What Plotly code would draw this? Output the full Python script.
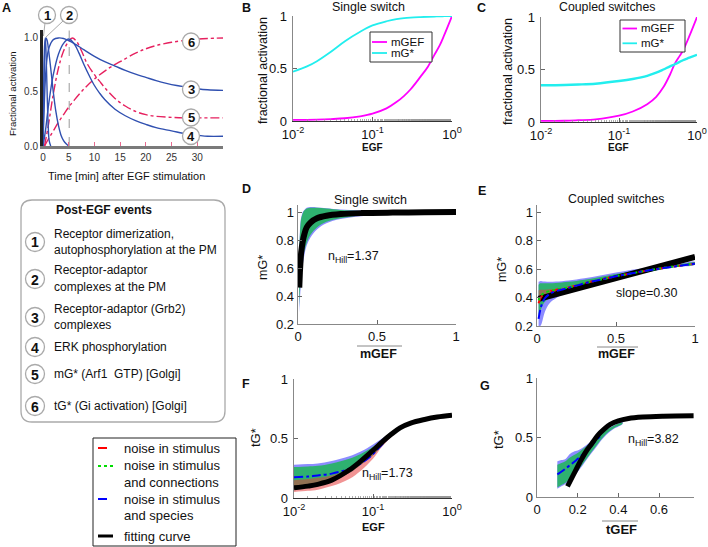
import plotly.graph_objects as go

W, H = 708, 547
FONT = "Arial, Liberation Sans, sans-serif"

# ---------------- data ----------------
# Panel A: time courses (min) of post-EGF events, fractional activation
A_t1 = [0, 0.15, 0.3, 0.45, 0.6, 0.8, 1.0, 1.2, 1.5]
A_y1 = [0, 0.55, 0.92, 1.0, 0.85, 0.5, 0.2, 0.05, 0]
A_t2 = [0, 0.2, 0.4, 0.6, 0.8, 1.0, 1.5, 2.0, 2.5, 3.0, 3.5, 4.0, 4.5, 5.0]
A_y2 = [0, 0.6, 0.92, 1.0, 0.98, 0.92, 0.72, 0.5, 0.32, 0.19, 0.1, 0.05, 0.02, 0]
A_t3 = [0, 0.3, 0.6, 1, 1.5, 2, 3, 4, 5, 6, 8, 10, 12, 14, 16, 18, 20, 22, 24, 26, 28, 30, 32, 35]
A_y3 = [0, 0.45, 0.72, 0.88, 0.95, 0.985, 1.0, 0.995, 0.975, 0.95, 0.89, 0.83, 0.78, 0.74, 0.7,
        0.665, 0.635, 0.605, 0.58, 0.56, 0.545, 0.53, 0.52, 0.515]
A_t4 = [0, 0.5, 1, 1.5, 2, 3, 4, 5, 6, 7, 8, 9, 10, 11, 12, 14, 16, 18, 20, 22, 25, 28, 30, 32, 35]
A_y4 = [0, 0.15, 0.35, 0.52, 0.66, 0.85, 0.95, 0.99, 0.95, 0.86, 0.75, 0.65, 0.56, 0.49, 0.43,
        0.34, 0.28, 0.235, 0.2, 0.17, 0.14, 0.11, 0.1, 0.09, 0.09]
A_t5 = [0.3, 1, 2, 3, 4, 5, 5.7, 6.5, 7.5, 8.5, 10, 11, 12, 14, 16, 18, 20, 22, 25, 28, 30, 35]
A_y5 = [0, 0.18, 0.48, 0.72, 0.88, 0.97, 1.0, 0.97, 0.88, 0.77, 0.66, 0.6, 0.54, 0.44, 0.37,
        0.32, 0.29, 0.275, 0.265, 0.26, 0.26, 0.26]
A_t6 = [0.3, 1, 2, 3, 4, 5, 6, 8, 10, 12.8, 15, 18, 20, 22, 25, 28, 30, 35]
A_y6 = [0, 0.06, 0.14, 0.22, 0.29, 0.36, 0.42, 0.53, 0.62, 0.72, 0.78, 0.86, 0.9, 0.93, 0.96, 0.98, 0.99, 1.0]
A_peak_time = 5.1
A_xticks = [0, 5, 10, 15, 20, 25, 30]

# Panel B: single switch vs EGF
B_egf = [0.01, 0.015, 0.02, 0.03, 0.045, 0.07, 0.1, 0.15, 0.2, 0.25, 0.3, 0.4, 0.5, 0.6, 0.7, 0.8, 1.0]
B_mgef = [0.01, 0.011, 0.013, 0.018, 0.026, 0.045, 0.07, 0.12, 0.18, 0.24, 0.3, 0.42, 0.52, 0.63, 0.72, 0.82, 1.0]
B_mg = [0.47, 0.52, 0.57, 0.66, 0.76, 0.85, 0.91, 0.95, 0.97, 0.98, 0.985, 0.99, 0.993, 0.995, 0.997, 0.998, 1.0]

# Panel C: coupled switches vs EGF
C_egf = [0.01, 0.02, 0.03, 0.05, 0.1, 0.15, 0.23, 0.3, 0.37, 0.45, 0.52, 0.6, 0.66, 0.8, 1.0]
C_mgef = [0.01, 0.012, 0.017, 0.025, 0.06, 0.1, 0.17, 0.24, 0.33, 0.45, 0.556, 0.63, 0.68, 0.82, 1.0]
C_mg = [0.35, 0.353, 0.357, 0.365, 0.39, 0.41, 0.44, 0.47, 0.5, 0.53, 0.55, 0.573, 0.588, 0.612, 0.64]

# Panel D: single switch, mG* vs mGEF
D_x = [0.008, 0.012, 0.016, 0.02, 0.03, 0.04, 0.055, 0.08, 0.12, 0.18, 0.27, 0.4, 0.6, 0.8, 1.0]
D_fit = [0.46, 0.57, 0.65, 0.71, 0.79, 0.84, 0.89, 0.925, 0.955, 0.973, 0.985, 0.992, 0.996, 0.998, 1.0]
D_green_hi = [0.72, 0.84, 0.91, 0.95, 0.99, 1.01, 1.025, 1.03, 1.03, 1.025, 1.015, 1.008, 1.004, 1.002, 1.0]
D_green_lo = [0.32, 0.42, 0.5, 0.56, 0.66, 0.72, 0.78, 0.84, 0.89, 0.93, 0.955, 0.975, 0.988, 0.995, 1.0]
D_blue_hi = [0.74, 0.86, 0.93, 0.96, 1.0, 1.015, 1.03, 1.035, 1.033, 1.027, 1.017, 1.01, 1.005, 1.003, 1.001]
D_blue_lo = [0.28, 0.37, 0.45, 0.52, 0.62, 0.69, 0.76, 0.82, 0.875, 0.92, 0.95, 0.97, 0.985, 0.993, 0.998]

# Panel E: coupled switches, mG* vs mGEF
E_x = [0.01, 0.02, 0.03, 0.05, 0.08, 0.12, 0.2, 0.3, 0.4, 0.5, 0.6, 0.7, 0.8, 0.9, 1.0]
E_blue_hi = [0.51, 0.515, 0.515, 0.512, 0.51, 0.512, 0.52, 0.535, 0.555, 0.575, 0.595, 0.61, 0.625, 0.637, 0.65]
E_blue_lo = [0.2, 0.2, 0.22, 0.3, 0.36, 0.395, 0.44, 0.475, 0.5, 0.53, 0.555, 0.578, 0.598, 0.616, 0.63]
E_green_hi = [0.49, 0.5, 0.5, 0.5, 0.5, 0.502, 0.51, 0.525, 0.545, 0.565, 0.585, 0.602, 0.618, 0.632, 0.645]
E_green_lo = [0.26, 0.3, 0.33, 0.37, 0.395, 0.415, 0.45, 0.48, 0.505, 0.535, 0.558, 0.58, 0.6, 0.618, 0.632]
E_red_hi = [0.45, 0.455, 0.455, 0.455, 0.458, 0.462, 0.48, 0.505, 0.53, 0.555, 0.575, 0.595, 0.612, 0.627, 0.642]
E_red_lo = [0.35, 0.38, 0.4, 0.42, 0.432, 0.445, 0.465, 0.492, 0.518, 0.543, 0.565, 0.585, 0.603, 0.62, 0.634]
E_red_line = [0.36, 0.39, 0.41, 0.43, 0.442, 0.453, 0.47, 0.5, 0.525, 0.55, 0.57, 0.59, 0.607, 0.623, 0.637]
E_green_line = [0.38, 0.405, 0.42, 0.435, 0.445, 0.455, 0.471, 0.5, 0.525, 0.55, 0.57, 0.59, 0.608, 0.624, 0.638]
E_blue_line = [0.25, 0.31, 0.35, 0.395, 0.425, 0.445, 0.468, 0.5, 0.525, 0.55, 0.57, 0.59, 0.607, 0.623, 0.638]
E_fit_x = [0.01, 1.0]
E_fit_y = [0.39, 0.685]

# Panel F: tG* vs EGF
F_x = [0.01, 0.015, 0.02, 0.03, 0.05, 0.07, 0.1, 0.13, 0.17, 0.22, 0.3, 0.45, 0.65, 1.0]
F_fit = [0.085, 0.1, 0.115, 0.15, 0.235, 0.31, 0.4, 0.47, 0.535, 0.59, 0.63, 0.66, 0.68, 0.695]
F_blue_line = [0.175, 0.18, 0.19, 0.205, 0.245, 0.29, 0.37, 0.45, 0.53, 0.59, 0.63, 0.66, 0.675, 0.69]
F_blue_hi = [0.28, 0.285, 0.29, 0.31, 0.35, 0.39, 0.45, 0.5, 0.55, 0.6, 0.635, 0.665, 0.68, 0.695]
F_green_hi = [0.26, 0.265, 0.27, 0.29, 0.33, 0.37, 0.43, 0.49, 0.545, 0.595, 0.632, 0.662, 0.678, 0.693]
F_green_lo = [0.1, 0.11, 0.125, 0.155, 0.21, 0.28, 0.36, 0.44, 0.515, 0.578, 0.624, 0.655, 0.675, 0.69]
F_red_hi = [0.15, 0.16, 0.17, 0.19, 0.24, 0.3, 0.39, 0.46, 0.53, 0.59, 0.63, 0.66, 0.68, 0.695]
F_red_lo = [0.05, 0.06, 0.07, 0.1, 0.16, 0.23, 0.33, 0.43, 0.51, 0.58, 0.625, 0.655, 0.675, 0.69]

# Panel G: tG* vs tGEF
G_fit_x = [0.15, 0.18, 0.21, 0.24, 0.27, 0.3, 0.33, 0.36, 0.4, 0.45, 0.52, 0.62, 0.77]
G_fit_y = [0.09, 0.19, 0.29, 0.38, 0.45, 0.52, 0.57, 0.61, 0.64, 0.66, 0.672, 0.679, 0.683]
G_bx = [0.1, 0.12, 0.14, 0.16, 0.18, 0.2, 0.23, 0.26, 0.3, 0.34, 0.38, 0.42]
G_blue_hi = [0.3, 0.31, 0.32, 0.36, 0.38, 0.39, 0.42, 0.46, 0.515, 0.565, 0.605, 0.63]
G_blue_lo = [0.07, 0.09, 0.11, 0.14, 0.17, 0.21, 0.28, 0.35, 0.44, 0.52, 0.575, 0.612]
G_green_hi = [0.27, 0.285, 0.3, 0.33, 0.35, 0.37, 0.41, 0.45, 0.51, 0.56, 0.6, 0.625]
G_green_lo = [0.08, 0.1, 0.12, 0.15, 0.18, 0.22, 0.29, 0.36, 0.45, 0.53, 0.58, 0.615]
G_blue_line_x = [0.1, 0.13, 0.16, 0.19, 0.22, 0.25, 0.28, 0.31]
G_blue_line_y = [0.19, 0.225, 0.265, 0.305, 0.35, 0.4, 0.455, 0.51]

# text
EVENTS = [
    ("1", ["Receptor dimerization,", "autophosphorylation at the PM"]),
    ("2", ["Receptor-adaptor", "complexes at the PM"]),
    ("3", ["Receptor-adaptor (Grb2)", "complexes"]),
    ("4", ["ERK phosphorylation"]),
    ("5", ["mG* (Arf1  GTP) [Golgi]"]),
    ("6", ["tG* (Gi activation) [Golgi]"]),
]
NOISE_LABELS = ["noise in stimulus", "noise in stimulus<br>and connections",
                "noise in stimulus<br>and species", "fitting curve"]

# ---------------- styling ----------------
BLUE_A = "#3050B0"
RED_A = "#E6215F"
MAG = "#FF00FF"
CYA = "#22EEEE"
GREEN_BAND = "rgb(46,177,112)"
BLUE_BAND = "rgb(140,140,255)"
RED_BAND = "rgba(230,60,60,0.55)"


def px(x):
    return x / W


def py(y):
    return 1 - y / H


fig = go.Figure()


def line(x, y, ax, color, width, dash="solid", shape="spline"):
    fig.add_trace(go.Scatter(x=x, y=y, xaxis="x" + ax, yaxis="y" + ax, mode="lines",
                             line=dict(color=color, width=width, dash=dash, shape=shape),
                             showlegend=False, hoverinfo="skip"))


def band(x, lo, hi, ax, color):
    fig.add_trace(go.Scatter(x=list(x) + list(x)[::-1], y=list(hi) + list(lo)[::-1],
                             xaxis="x" + ax, yaxis="y" + ax, mode="lines", fill="toself",
                             fillcolor=color, line=dict(width=0, shape="spline"),
                             showlegend=False, hoverinfo="skip"))


# Panel A
for t, y in [(A_t6, A_y6), (A_t5, A_y5)]:
    line(t, y, "", RED_A, 1.4, "dashdot")
for t, y in [(A_t4, A_y4), (A_t3, A_y3), (A_t2, A_y2), (A_t1, A_y1)]:
    line(t, y, "", BLUE_A, 1.4)

# Panel B / C
line(B_egf, B_mgef, "2", MAG, 1.8)
line(B_egf, B_mg, "2", CYA, 1.8)
line(C_egf, C_mgef, "3", MAG, 1.8)
line(C_egf, C_mg, "3", CYA, 2.4)

# Panel D
band(D_x, D_blue_lo, D_blue_hi, "4", BLUE_BAND)
band(D_x, D_green_lo, D_green_hi, "4", GREEN_BAND)
line(D_x, D_fit, "4", "black", 6)

# Panel E
band(E_x, E_blue_lo, E_blue_hi, "5", BLUE_BAND)
band(E_x, E_green_lo, E_green_hi, "5", GREEN_BAND)
band(E_x, E_red_lo, E_red_hi, "5", RED_BAND)
line(E_fit_x, E_fit_y, "5", "black", 6, shape="linear")
line(E_x, E_red_line, "5", "red", 2, "dash")
line(E_x, E_green_line, "5", "#00DD00", 2, "dot")
line(E_x, E_blue_line, "5", "blue", 2, "dashdot")

# Panel F
band(F_x, F_green_lo, F_blue_hi, "6", BLUE_BAND)
band(F_x, F_green_lo, F_green_hi, "6", GREEN_BAND)
band(F_x, F_red_lo, F_red_hi, "6", RED_BAND)
line(F_x, F_blue_line, "6", "blue", 2, "dashdot")
line(F_x, F_fit, "6", "black", 5)

# Panel G
band(G_bx, G_blue_lo, G_blue_hi, "7", BLUE_BAND)
band(G_bx, G_green_lo, G_green_hi, "7", GREEN_BAND)
line(G_blue_line_x, G_blue_line_y, "7", "blue", 2, "dashdot")
line(G_fit_x, G_fit_y, "7", "black", 5)

# ---------------- axes ----------------
TICKFONT = dict(size=13, color="#111", family=FONT)


def axis(dom, rng, anchor, horiz, **kw):
    if horiz:
        d = [px(dom[0]), px(dom[1])]
    else:
        d = [py(dom[0]), py(dom[1])]
    a = dict(domain=d, range=rng, anchor=anchor, showgrid=False, zeroline=False, automargin=False,
             showline=True, linecolor="#888", linewidth=1.3, ticks="inside", ticklen=4,
             tickcolor="#666", tickfont=TICKFONT, fixedrange=True, ticklabeloverflow="allow")
    a.update(kw)
    return a


LOGTICKS = dict(tickvals=[0.01, 0.1, 1], ticktext=["10<sup>-2</sup>", "10<sup>-1</sup>", "10<sup>0</sup>"],
                ticklabelstandoff=1,
                minor=dict(ticks="inside", ticklen=2, tickcolor="#999", tickwidth=0.8, showgrid=False))
YLOG = dict(tickvals=[0, 0.5, 1], ticktext=["0", "0.5", "1"], ticklabelstandoff=2)

layout_axes = dict(
    xaxis=axis((43, 223), [0, 35], "y", True, tickvals=A_xticks, linecolor="#7a7a7a", linewidth=3,
               tickcolor="#e86a90", ticklen=4, tickfont=dict(size=10, color="#333", family=FONT)),
    yaxis=axis((146, 30.4), [0, 1.07], "x", False, tickvals=[0, 0.5, 1], ticktext=["0.0", "0.5", "1.0"],
               linecolor="#222", linewidth=3, ticks="", tickfont=dict(size=10, color="#333", family=FONT)),
    xaxis2=axis((293, 452), [-2, 0], "y2", True, type="log", linecolor="#333", **LOGTICKS),
    yaxis2=axis((121, 16), [0, 1], "x2", False, **YLOG),
    xaxis3=axis((541, 697), [-2, 0], "y3", True, type="log", linecolor="#333", **LOGTICKS),
    yaxis3=axis((122, 17), [0, 1], "x3", False, **YLOG),
    xaxis4=axis((298, 456), [0, 1], "y4", True, tickvals=[0, 0.5, 1], ticktext=["0", "0.5", "1"]),
    yaxis4=axis((324, 205), [0.2, 1.05], "x4", False, tickvals=[0.2, 0.4, 0.6, 0.8, 1],
                ticktext=["0.2", "0.4", "0.6", "0.8", "1"]),
    xaxis5=axis((537, 695), [0, 1], "y5", True, tickvals=[0, 0.5, 1], ticktext=["0", "0.5", "1"]),
    yaxis5=axis((326, 205), [0.2, 1.05], "x5", False, tickvals=[0.2, 0.4, 0.6, 0.8, 1],
                ticktext=["0.2", "0.4", "0.6", "0.8", "1"]),
    xaxis6=axis((294, 452), [-2, 0], "y6", True, type="log", linecolor="#333", **LOGTICKS),
    yaxis6=axis((498, 379), [0, 1], "x6", False, **YLOG),
    xaxis7=axis((537, 694), [0, 0.772], "y7", True, tickvals=[0, 0.2, 0.4, 0.6],
                ticktext=["0", "0.2", "0.4", "0.6"]),
    yaxis7=axis((497, 378), [0, 1], "x7", False, tickvals=[0, 0.5, 1], ticktext=["0", "0.5", "1"]),
)

# ---------------- annotations & shapes ----------------
ann = []
shapes = []


def text(x, y, s, size=12, bold=False, xanchor="center", yanchor="middle", angle=0, color="#111"):
    ann.append(dict(x=px(x), y=py(y), xref="paper", yref="paper", text=("<b>%s</b>" % s) if bold else s,
                    showarrow=False, xanchor=xanchor, yanchor=yanchor, textangle=angle,
                    font=dict(size=size, color=color, family=FONT)))


def seg(x0, y0, x1, y1, color="#888", width=1, dash="solid"):
    shapes.append(dict(type="line", xref="paper", yref="paper", x0=px(x0), y0=py(y0), x1=px(x1), y1=py(y1),
                       line=dict(color=color, width=width, dash=dash)))


def circle(cx, cy, r, label, size=13):
    shapes.append(dict(type="circle", xref="paper", yref="paper", x0=px(cx - r), x1=px(cx + r),
                       y0=py(cy + r), y1=py(cy - r), line=dict(color="#aaa", width=1.3), fillcolor="white"))
    text(cx, cy + 0.5, label, size=size, bold=True)


def rrect(x0, y0, x1, y1, r):
    def P(x, y):
        return "%.5f,%.5f" % (px(x), py(y))
    path = ("M %s L %s Q %s %s L %s Q %s %s L %s Q %s %s L %s Q %s %s Z" % (
        P(x0 + r, y0), P(x1 - r, y0), P(x1, y0), P(x1, y0 + r), P(x1, y1 - r), P(x1, y1), P(x1 - r, y1),
        P(x0 + r, y1), P(x0, y1), P(x0, y1 - r), P(x0, y0 + r), P(x0, y0), P(x0 + r, y0)))
    shapes.append(dict(type="path", xref="paper", yref="paper", path=path, line=dict(color="#aaa", width=1.3)))


# panel letters
for L, x, y in [("A", 6, 8), ("B", 246, 8), ("C", 481, 8), ("D", 246, 189), ("E", 482, 191),
                ("F", 246, 384), ("G", 485, 386)]:
    text(x, y, L, size=12.5, bold=True)

# Panel A decorations
shapes.append(dict(type="line", xref="x", yref="y", x0=A_peak_time, x1=A_peak_time, y0=0, y1=1.08,
                   line=dict(color="#aaa", width=1.2, dash="dash"), layer="below"))
seg(45, 23, 43.5, 36, "#aaa", 1)
seg(63, 21, 46, 37, "#aaa", 1)
circle(47, 15, 8.5, "1")
circle(69, 15, 8.5, "2")
circle(191, 41.5, 8.5, "6")
circle(191, 89.5, 8.5, "3")
circle(191, 117.5, 8.5, "5")
circle(191, 136, 8.5, "4")
text(126, 176, "Time [min] after EGF stimulation", size=11)
text(13, 94, "Fractional activation", size=9.5, angle=-90)

# Post-EGF events box
rrect(21, 200, 225, 422, 11)
text(104, 210, "Post-EGF events", size=12, bold=True)
ev_y = [242, 279, 317, 347, 374, 406]
for (num, lines), cy in zip(EVENTS, ev_y):
    circle(35, cy, 9.5, num, size=14)
    if len(lines) == 2:
        text(52, cy - 8.5, lines[0], size=12, xanchor="left")
        text(52, cy + 8, lines[1], size=12, xanchor="left")
    else:
        text(52, cy, lines[0], size=12, xanchor="left")

# noise legend
shapes.append(dict(type="rect", xref="paper", yref="paper", x0=px(93), x1=px(236), y0=py(546), y1=py(438),
                   line=dict(color="#222", width=1)))
seg(98, 448, 113, 448, "red", 2, "dash")
seg(98, 466, 113, 466, "#00DD00", 2, "dot")
seg(98, 499, 113, 499, "blue", 2, "dash")
seg(98, 536, 113, 536, "black", 3)
for s, y in zip(NOISE_LABELS, [448, 474, 507.5, 536]):
    for k, part in enumerate(s.split("<br>")):
        off = 0 if "<br>" not in s else (-8.3 if k == 0 else 8.3)
        text(122, y + off, part, size=13, xanchor="left")

# B legend
shapes.append(dict(type="rect", xref="paper", yref="paper", x0=px(370), x1=px(432), y0=py(62), y1=py(32),
                   line=dict(color="#333", width=1), fillcolor="white"))
seg(372, 42, 387, 42, MAG, 1.8)
seg(372, 53, 387, 53, CYA, 1.8)
text(388.5, 42, "mGEF", size=11.5, xanchor="left")
text(388.5, 53, "mG*", size=11.5, xanchor="left")
# C legend
shapes.append(dict(type="rect", xref="paper", yref="paper", x0=px(620), x1=px(685), y0=py(52), y1=py(20),
                   line=dict(color="#333", width=1), fillcolor="white"))
seg(622.5, 28.5, 637, 28.5, MAG, 1.8)
seg(622.5, 43.3, 637, 43.3, CYA, 1.8)
text(638.5, 28.5, "mGEF", size=11.5, xanchor="left")
text(638.5, 43.3, "mG*", size=11.5, xanchor="left")

# titles
text(368, 7, "Single switch", size=12.5)
text(607, 7, "Coupled switches", size=12.3)
text(370, 200, "Single switch", size=12.5)
text(616, 199, "Coupled switches", size=12.3)

# axis titles
text(372, 147, "EGF", size=10, bold=True)
text(618, 147, "EGF", size=10, bold=True)
text(373, 526.5, "EGF", size=11, bold=True)
text(378, 354, "mGEF", size=12.5, bold=True)
text(616, 354, "mGEF", size=12.5, bold=True)
text(621, 529.5, "tGEF", size=13, bold=True)
seg(357, 346, 402, 346, "#888", 1)
seg(597, 347, 638, 347, "#888", 1)
seg(602, 521, 638, 521, "#888", 1)
text(263, 71, "fractional activation", size=12.5, angle=-90)
text(508, 72, "fractional activation", size=12.5, angle=-90)
text(263, 268, "mG*", size=12.5, angle=-90)
text(502, 270, "mG*", size=12.5, angle=-90)
text(255, 438, "tG*", size=13, angle=-90)
text(498, 440, "tG*", size=13, angle=-90)

# fit annotations
text(353, 257, "n<sub>Hill</sub>=1.37", size=12.5)
text(647, 293, "slope=0.30", size=12.5)
text(388, 474, "n<sub>Hill</sub>=1.73", size=12.5)
text(653, 440, "n<sub>Hill</sub>=3.82", size=12.5)

fig.update_layout(template="none", width=W, height=H, margin=dict(l=0, r=0, t=0, b=0, pad=0), autosize=False,
                  paper_bgcolor="white", plot_bgcolor="white", showlegend=False,
                  font=dict(family=FONT), annotations=ann, shapes=shapes, **layout_axes)

fig.write_html("out.html", config={"displayModeBar": False, "staticPlot": True},
               post_script="document.body.style.margin='0';document.body.style.padding='0';")
